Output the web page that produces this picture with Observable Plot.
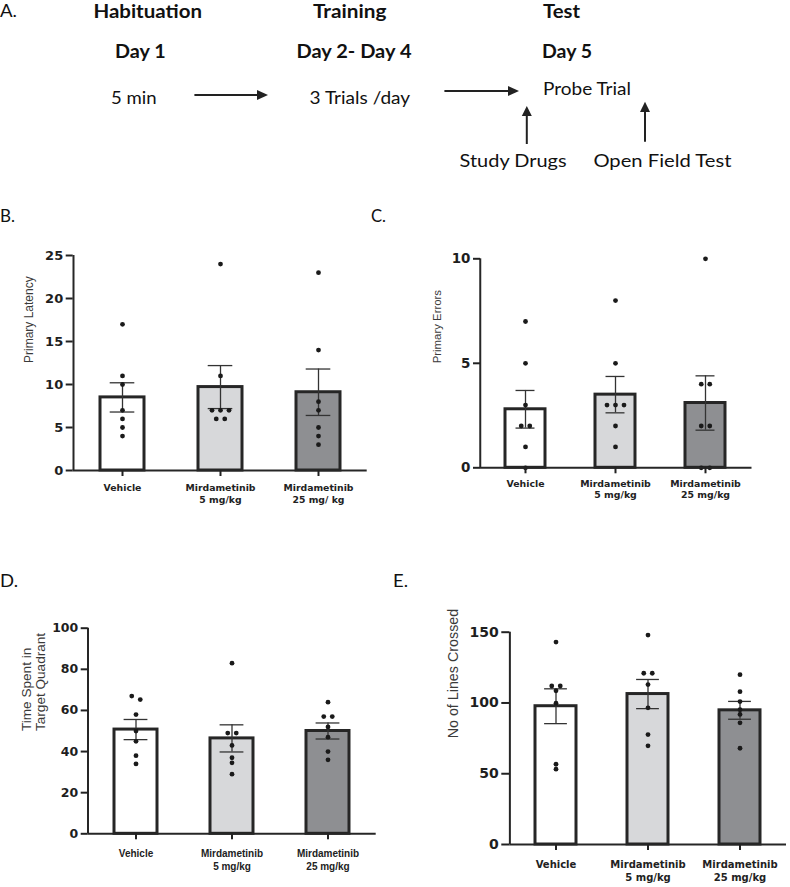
<!DOCTYPE html>
<html><head><meta charset="utf-8">
<script src="https://cdn.jsdelivr.net/npm/d3@7"></script>
<script src="https://cdn.jsdelivr.net/npm/@observablehq/plot@0.6"></script>
<style>
body{margin:0;background:#fff;}
#page{position:relative;width:790px;height:887px;overflow:hidden;}
.panel{position:absolute;}
.panel svg{overflow:visible;font-family:"DejaVu Sans",sans-serif;}
.panel g[aria-label^="y-axis"] text,
.panel g[aria-label^="y-axis"]{font-weight:700 !important;font-family:"DejaVu Sans",sans-serif !important;fill:#1e1e1e;}
</style></head><body>
<div id="page">
<svg width="790" height="887" style="position:absolute;left:0;top:0" font-family="Lato, 'Open Sans', sans-serif" fill="#111">
  <text x="0" y="17" font-size="18" textLength="17" lengthAdjust="spacingAndGlyphs">A.</text>
  <g font-weight="bold" font-size="19.5">
    <text x="93.4" y="18" textLength="108.6" lengthAdjust="spacingAndGlyphs">Habituation</text>
    <text x="313" y="18" textLength="73.4" lengthAdjust="spacingAndGlyphs">Training</text>
    <text x="543" y="18" textLength="37" lengthAdjust="spacingAndGlyphs">Test</text>
    <text x="115" y="58" textLength="50.7" lengthAdjust="spacingAndGlyphs">Day 1</text>
    <text x="296.5" y="58" textLength="115" lengthAdjust="spacingAndGlyphs">Day 2- Day 4</text>
    <text x="542" y="58" textLength="50" lengthAdjust="spacingAndGlyphs">Day 5</text>
  </g>
  <g font-size="18">
    <text x="111" y="104" textLength="45.6" lengthAdjust="spacingAndGlyphs">5 min</text>
    <text x="309.6" y="104" textLength="100.5" lengthAdjust="spacingAndGlyphs">3 Trials /day</text>
    <text x="543" y="95" textLength="88" lengthAdjust="spacingAndGlyphs">Probe Trial</text>
    <text x="459.6" y="166.7" textLength="107" lengthAdjust="spacingAndGlyphs">Study Drugs</text>
    <text x="593.4" y="166.7" textLength="138" lengthAdjust="spacingAndGlyphs">Open Field Test</text>
  </g>
  <g stroke="#222" stroke-width="2">
    <line x1="194.4" y1="95" x2="259" y2="95"/>
    <line x1="444.4" y1="91" x2="510" y2="91"/>
    <line x1="526.8" y1="144" x2="526.8" y2="115"/>
    <line x1="645" y1="141.7" x2="645" y2="111"/>
  </g>
  <g fill="#222">
    <polygon points="257,90 268,95 257,100"/>
    <polygon points="508,86 519,91 508,96"/>
    <polygon points="521.8,116 526.8,106 531.8,116"/>
    <polygon points="640,112 645,101.7 650,112"/>
  </g>
  <g font-size="18">
    <text x="0" y="222" textLength="15" lengthAdjust="spacingAndGlyphs">B.</text>
    <text x="371" y="222" textLength="15" lengthAdjust="spacingAndGlyphs">C.</text>
    <text x="0" y="587" textLength="18" lengthAdjust="spacingAndGlyphs">D.</text>
    <text x="393" y="587" textLength="15" lengthAdjust="spacingAndGlyphs">E.</text>
  </g>
</svg>
</div>
<script>
// ---------- data ----------
const groups = ["Vehicle", "Mirdametinib 5 mg/kg", "Mirdametinib 25 mg/kg"];
const labelsB = ["Vehicle", "Mirdametinib\n5 mg/kg", "Mirdametinib\n25 mg/ kg"];
const labelsCDE = ["Vehicle", "Mirdametinib\n5 mg/kg", "Mirdametinib\n25 mg/kg"];
const barFills = ["#ffffff", "#d7d8da", "#8e8f92"];

const latencyPoints = [[17, 11, 10, 7, 6, 5, 4], [24, 11, 7, 7, 7, 6, 6], [23, 14, 8, 7, 5, 4, 3]];
const latencyMeans = [8.5, 9.7, 9.1];
const latencySem = [1.7, 2.5, 2.7];
const latencyTicks = [0, 5, 10, 15, 20, 25];

const errorsPoints = [[7, 5, 3, 2, 2, 1, 0], [8, 5, 3, 3, 3, 2, 1], [10, 4, 4, 2, 2, 0, 0]];
const errorsMeans = [2.8, 3.5, 3.1];
const errorsSem = [0.9, 0.87, 1.3];
const errorsTicks = [0, 5, 10];

const quadrantPoints = [[67, 65.3, 58, 50, 45, 38, 34], [83, 49, 49, 43, 37, 34.5, 29], [64, 57, 57, 52, 47, 40, 36]];
const quadrantMeans = [50.7, 46.4, 50];
const quadrantSem = [4.9, 6.6, 3.9];
const quadrantTicks = [0, 20, 40, 60, 80, 100];

const linesPoints = [[143, 112, 112, 108.6, 99.8, 56.7, 53.2], [148, 121, 121, 113, 96.6, 77.7, 69.7], [120, 108, 101, 95.2, 91.9, 86, 68]];
const linesMeans = [97.7, 106.3, 94.8];
const linesSem = [12.3, 10.3, 6.3];
const linesTicks = [0, 50, 100, 150];

// ---------- helpers ----------
function dodge(values, pxPerUnit, thr) {
  const idx = values.map((v, i) => i).sort((a, b) => values[b] - values[a]);
  const off = new Array(values.length).fill(0);
  let cluster = [idx[0]];
  const flush = () => { const n = cluster.length; cluster.forEach((k, j) => off[k] = j - (n - 1) / 2); };
  for (let j = 1; j < idx.length; j++) {
    const prev = cluster[cluster.length - 1];
    if ((values[prev] - values[idx[j]]) * pxPerUnit < thr) cluster.push(idx[j]);
    else { flush(); cluster = [idx[j]]; }
  }
  flush();
  return off;
}

function barChart(c) {
  const ymax = c.ticks[c.ticks.length - 1];
  const innerW = c.width - c.ml - c.mr, innerH = c.height - c.mt - c.mb;
  const step = innerW / groups.length, pi = 0.55, bw = step * (1 - pi);
  const pxPerUnit = innerH / ymax;
  const summary = groups.map((g, i) => ({g, mean: c.means[i], lo: c.means[i] - c.sems[i], hi: c.means[i] + c.sems[i]}));
  const dots = [];
  c.points.forEach((arr, i) => {
    const off = dodge(arr, pxPerUnit, 3.9);
    arr.forEach((v, j) => dots.push({g: groups[i], v, off: off[j]}));
  });
  const offs = [...new Set(dots.map(d => d.off))];
  const inset = (bw - c.capW) / 2;
  const ax = "#262626";
  const plot = Plot.plot({
    width: c.width, height: c.height,
    marginLeft: c.ml, marginRight: c.mr, marginTop: c.mt, marginBottom: c.mb,
    x: {domain: groups, paddingInner: pi, paddingOuter: pi / 2},
    y: {domain: [0, ymax]},
    color: {domain: groups, range: barFills},
    style: {background: "transparent", overflow: "visible", fontFamily: "DejaVu Sans"},
    marks: [
      Plot.barY(summary, {x: "g", y: "mean", fill: "g", stroke: ax, strokeWidth: 3}),
      Plot.ruleX(summary, {x: "g", y1: "lo", y2: "hi", stroke: "#333", strokeWidth: 1.3}),
      Plot.tickY(summary, {x: "g", y: "hi", stroke: "#333", strokeWidth: 1.3, insetLeft: inset, insetRight: inset}),
      Plot.tickY(summary, {x: "g", y: "lo", stroke: "#333", strokeWidth: 1.3, insetLeft: inset, insetRight: inset}),
      ...offs.map(o => Plot.dot(dots.filter(d => d.off === o), {x: "g", y: "v", r: 2.4, fill: "#1a1a1a", stroke: "none", dx: o * 8.5})),
      Plot.ruleY([0], {stroke: ax, strokeWidth: 2}),
      Plot.ruleX([groups[0]], {y1: 0, y2: ymax, dx: -step / 2, stroke: ax, strokeWidth: 2}),
      Plot.axisY({ticks: c.ticks, tickSize: c.tickSize, tickPadding: 3, tickFormat: d => String(d), label: null,
        fontSize: c.tickFont, fontWeight: "bold", fontFamily: "DejaVu Sans", color: "#222", strokeWidth: 2}),
      Plot.axisX({tickSize: 6, tickFormat: () => "", label: null, color: "#222", strokeWidth: 2}),
      Plot.text(groups, {x: d => d, text: (d, i) => c.labels[i], frameAnchor: "bottom", lineAnchor: "top", dy: c.xDy,
        fontSize: c.xFont, fontWeight: "bold", fontFamily: c.xFamily, lineHeight: c.xLh, fill: "#222"}),
      Plot.text([c.yLabel], {frameAnchor: "left", rotate: -90, dx: c.yTitleDx, fontSize: c.yTitleFont,
        fontFamily: "Liberation Sans", fill: "#3a3a3a", lineHeight: c.yTitleLh || 1})
    ]
  });
  const div = document.createElement("div");
  div.className = "panel";
  div.style.left = c.left + "px";
  div.style.top = c.top + "px";
  div.appendChild(plot);
  document.getElementById("page").appendChild(div);
}

barChart({points: latencyPoints, means: latencyMeans, sems: latencySem, ticks: latencyTicks, labels: labelsB,
  yLabel: "Primary Latency", left: 0, top: 230, width: 380, height: 280, ml: 72.7, mr: 13.3, mt: 25, mb: 40,
  tickFont: 13, tickSize: 7, xFont: 9.3, xLh: 1.32, xDy: 11.7, xFamily: "DejaVu Sans",
  yTitleDx: -44, yTitleFont: 12, capW: 24.7});

barChart({points: errorsPoints, means: errorsMeans, sems: errorsSem, ticks: errorsTicks, labels: labelsCDE,
  yLabel: "Primary Errors", left: 380, top: 230, width: 390, height: 277.3, ml: 100, mr: 18.5, mt: 28.3, mb: 40,
  tickFont: 13.5, tickSize: 7, xFont: 9.4, xLh: 1.24, xDy: 10.7, xFamily: "DejaVu Sans",
  yTitleDx: -43.3, yTitleFont: 11.4, capW: 19.7});

barChart({points: quadrantPoints, means: quadrantMeans, sems: quadrantSem, ticks: quadrantTicks, labels: labelsCDE,
  yLabel: "Time Spent in\nTarget Quadrant", left: 0, top: 600, width: 390, height: 273.3, ml: 87.7, mr: 14.3, mt: 27.7, mb: 40,
  tickFont: 12.5, tickSize: 7, xFont: 10, xLh: 1.33, xDy: 13.7, xFamily: "Liberation Sans",
  yTitleDx: -55, yTitleFont: 13.6, yTitleLh: 1.1, capW: 24});

barChart({points: linesPoints, means: linesMeans, sems: linesSem, ticks: linesTicks, labels: labelsCDE,
  yLabel: "No of Lines Crossed", left: 380, top: 600, width: 410, height: 287, ml: 129.3, mr: 4, mt: 31.7, mb: 43,
  tickFont: 14, tickSize: 8, xFont: 10, xLh: 1.33, xDy: 14, xFamily: "DejaVu Sans",
  yTitleDx: -56.3, yTitleFont: 14.3, capW: 23.3});
</script>
</body></html>
